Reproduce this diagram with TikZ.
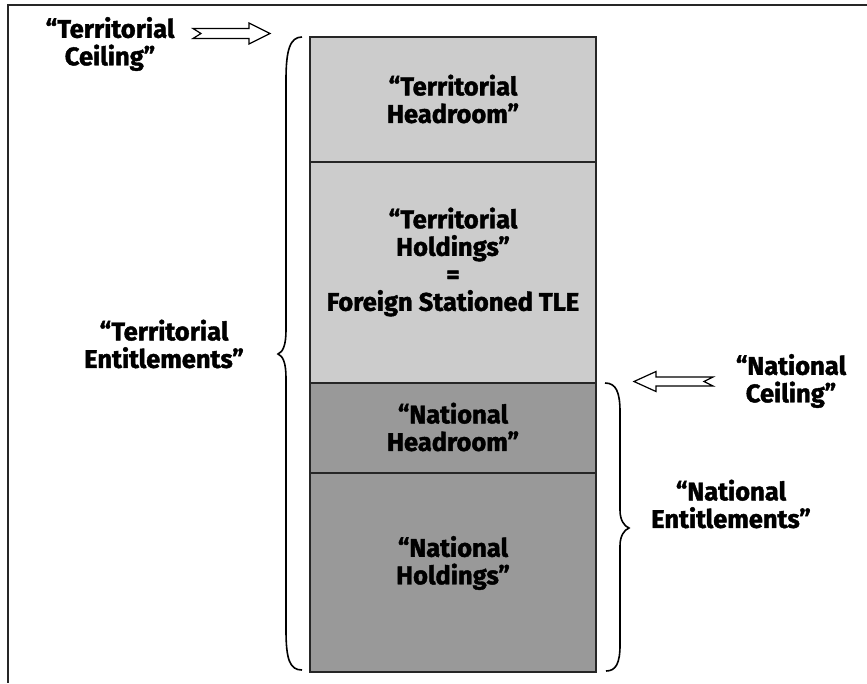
\documentclass[tikz,border=0pt]{standalone}
\usepackage{fontspec}
\setmainfont{Fira Sans}[BoldFeatures={FakeBold=1.6}]
\begin{document}
\begin{tikzpicture}[x=1pt,y=-1pt,
  lbl/.style={align=center,font=\bfseries\fontsize{25.5}{27.5}\selectfont,inner sep=0pt},
  band/.style={draw=black!85,line width=1.2pt},
  brace/.style={draw=black,line width=1.6pt},
  hollowarrow/.style={draw=black,line width=1.2pt,fill=white,line join=miter}]
\useasboundingbox (0,0) rectangle (867,683);
% open frame: top and left edges only
\draw[line width=1.4pt,black!85] (867,5) -- (8,5) -- (8,683);

% stacked bands
\path[band,fill=black!20] (310,37) rectangle (596,162);
\path[band,fill=black!20] (310,162) rectangle (596,383);
\path[band,fill=black!40] (310,383) rectangle (596,473);
\path[band,fill=black!40] (310,473) rectangle (596,672);

\node[lbl] (thead) at (453,99) {“Territorial\\Headroom”};
\node[lbl] (thold) at (453,262) {“Territorial\\Holdings”\\=\\Foreign Stationed TLE};
\node[lbl] (nhead) at (453,427) {“National\\Headroom”};
\node[lbl] (nhold) at (453,563) {“National\\Holdings”};

% side labels
\node[lbl] (tceil) at (110,44) {“Territorial\\Ceiling”};
\node[lbl] (tent) at (164,344) {“Territorial\\Entitlements”};
\node[lbl] (nceil) at (791,381) {“National\\Ceiling”};
\node[lbl] (nent) at (731,504) {“National\\Entitlements”};

% hollow arrows
\path[hollowarrow] (193,28.5) -- (249,28.5) -- (249,23) -- (270,33.5) -- (249,44) -- (249,38.5)
  -- (193,38.5) -- (201,33.5) -- cycle;
\path[hollowarrow] (713,377) -- (656,377) -- (656,371.5) -- (634,381.5) -- (656,391.5) -- (656,386)
  -- (713,386) -- (704,381.5) -- cycle;

% braces
\path[brace] (302,37) .. controls (290,37) and (286,50) .. (286,80) -- (286,330)
  .. controls (286,345) and (283,352) .. (278,354)
  .. controls (283,356) and (286,363) .. (286,378) -- (286,630)
  .. controls (286,660) and (290,670) .. (302,670);
\path[brace] (605,383) .. controls (616,383) and (620,392) .. (620,412) -- (620,510)
  .. controls (620,520) and (624,526) .. (629,528)
  .. controls (624,530) and (620,536) .. (620,546) -- (620,645)
  .. controls (620,663) and (616,671) .. (606,671);
\end{tikzpicture}
\end{document}
